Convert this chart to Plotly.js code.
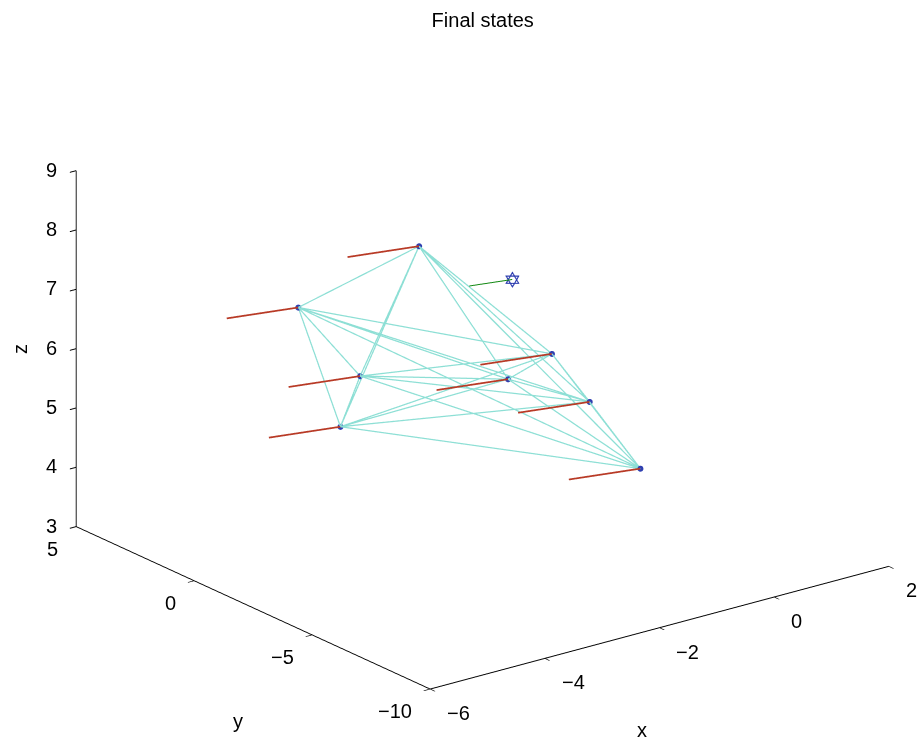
<!DOCTYPE html>
<html><head><meta charset="utf-8">
<script src="https://cdn.plot.ly/plotly-3.0.1.min.js"></script>
<style>html,body{margin:0;padding:0;background:#fff}#chart{width:923px;height:744px}#err{position:absolute;left:5px;top:5px;font:12px sans-serif;color:red}</style>
</head><body><div id="chart"></div><div id="err"></div>
<script>
window.onerror = function (m) { document.getElementById('err').textContent += ' ERR:' + m; };
// Final agent positions
const agentX = [-2.44, -2.95, -2.69, -2.77, -1.88, -2.06, -1.72, -1.51];
const agentY = [-0.88, 3.00, 1.01, 1.65, -5.15, -3.73, -6.36, -8.00];
const agentZ = [7.88, 6.27, 5.41, 4.46, 6.70, 6.06, 6.07, 5.19];
// Trail start positions (earlier states)
const trailStartX = [-3.49, -4.00, -3.74, -3.82, -2.93, -3.11, -2.77, -2.56];
const trailStartY = [-0.40, 3.48, 1.49, 2.13, -4.67, -3.25, -5.88, -7.52];
const trailStartZ = [7.88, 6.27, 5.41, 4.46, 6.70, 6.06, 6.07, 5.19];
// Leader
const leaderX = [-2.10], leaderY = [-4.00], leaderZ = [7.80];
const leaderTrailX = [-2.73, -2.10], leaderTrailY = [-3.71, -4.00], leaderTrailZ = [7.80, 7.80];
// Axis ranges and ticks
const xRange = [-6, 2], yRange = [-10, 5], zRange = [3, 9];
const xTicks = [-6, -4, -2, 0, 2];
const yTicks = [-10, -5, 0, 5];
const zTicks = [3, 4, 5, 6, 7, 8, 9];

const ex = [], ey = [], ez = [];
for (let i = 0; i < agentX.length; i++) {
  for (let j = i + 1; j < agentX.length; j++) {
    ex.push(agentX[i], agentX[j], null);
    ey.push(agentY[i], agentY[j], null);
    ez.push(agentZ[i], agentZ[j], null);
  }
}
const tx = [], ty = [], tz = [];
for (let i = 0; i < agentX.length; i++) {
  tx.push(trailStartX[i], agentX[i], null);
  ty.push(trailStartY[i], agentY[i], null);
  tz.push(trailStartZ[i], agentZ[i], null);
}

const dir = [-0.5683, -0.7444, 0.3504];
const d = 1.345;
const font = 'Liberation Sans, Arial, sans-serif';
const tf = {family: font, size: 20, color: '#000'};
function fmt(v) { return v < 0 ? '\u2212' + Math.abs(v) : String(v); }
function ax(range, ticks) {
  return {
    title: {text: ''},
    range: range, autorange: false,
    tickmode: 'array', tickvals: ticks, showticklabels: false,
    showgrid: false, zeroline: false, showbackground: false,
    showline: true, linecolor: '#000', linewidth: 2,
    ticks: 'outside', ticklen: 8, tickcolor: '#000', tickwidth: 2,
    showspikes: false
  };
}

// Tick labels and axis titles as scene annotations (kept upright like the original)
const ann = [];
xTicks.forEach(function (t) {
  ann.push({x: t, y: yRange[0], z: zRange[0], text: fmt(t), showarrow: false, font: tf,
            xanchor: 'left', yanchor: 'middle', xshift: 15, yshift: -24});
});
yTicks.forEach(function (t) {
  ann.push({x: xRange[0], y: t, z: zRange[0], text: fmt(t), showarrow: false, font: tf,
            xanchor: 'right', yanchor: 'middle', xshift: -16, yshift: -22});
});
zTicks.forEach(function (t) {
  ann.push({x: xRange[0], y: yRange[1], z: t, text: fmt(t), showarrow: false, font: tf,
            xanchor: 'right', yanchor: 'middle', xshift: -17, yshift: 1});
});
ann.push({x: -2, y: yRange[0], z: zRange[0], text: 'x', showarrow: false, font: tf,
          xanchor: 'center', yanchor: 'middle', xshift: -17, yshift: -102});
ann.push({x: xRange[0], y: -2.5, z: zRange[0], text: 'y', showarrow: false, font: tf,
          xanchor: 'center', yanchor: 'middle', xshift: -15, yshift: -113});
ann.push({x: xRange[0], y: yRange[1], z: 6, text: 'z', showarrow: false, font: tf, textangle: -90,
          xanchor: 'center', yanchor: 'middle', xshift: -57, yshift: 0});

const traces = [
  {type: 'scatter3d', mode: 'lines', x: ex, y: ey, z: ez, connectgaps: false,
   line: {color: '#8ddfd5', width: 2.5}, hoverinfo: 'skip', showlegend: false},
  {type: 'scatter3d', mode: 'lines', x: tx, y: ty, z: tz, connectgaps: false,
   line: {color: '#b83a26', width: 3.5}, hoverinfo: 'skip', showlegend: false},
  {type: 'scatter3d', mode: 'markers', x: agentX, y: agentY, z: agentZ,
   marker: {size: 3.5, color: '#2f3fb0'}, hoverinfo: 'skip', showlegend: false},
  {type: 'scatter3d', mode: 'lines', x: leaderTrailX, y: leaderTrailY, z: leaderTrailZ,
   line: {color: '#118811', width: 2}, hoverinfo: 'skip', showlegend: false},
  {type: 'scatter3d', mode: 'text', x: leaderX, y: leaderY, z: leaderZ, text: ['\u2721'],
   textposition: 'middle center', textfont: {size: 22, color: '#2f3fb0'},
   hoverinfo: 'skip', showlegend: false}
];

const k = 1.566;
const layout = {
  width: 923, height: 744,
  margin: {l: 0, r: 0, t: 0, b: 0},
  paper_bgcolor: '#fff',
  title: {text: 'Final states', font: tf,
          x: 0.523, xref: 'paper', y: 0.973, yref: 'container', yanchor: 'middle'},
  scene: {
    domain: {x: [0.0456, 1], y: [0.0094, 1]},
    xaxis: ax(xRange, xTicks),
    yaxis: ax(yRange, yTicks),
    zaxis: ax(zRange, zTicks),
    aspectmode: 'manual',
    aspectratio: {x: 1 * k, y: 1.0107 * k, z: 0.6586 * k},
    annotations: ann,
    camera: {
      projection: {type: 'orthographic'},
      eye: {x: dir[0] * d, y: dir[1] * d, z: dir[2] * d},
      up: {x: 0, y: 0, z: 1}, center: {x: 0, y: 0, z: 0}
    }
  }
};
Plotly.newPlot('chart', traces, layout, {displayModeBar: false}).catch(function (e) {
  document.getElementById('err').textContent += ' PERR:' + e;
});
</script></body></html>
